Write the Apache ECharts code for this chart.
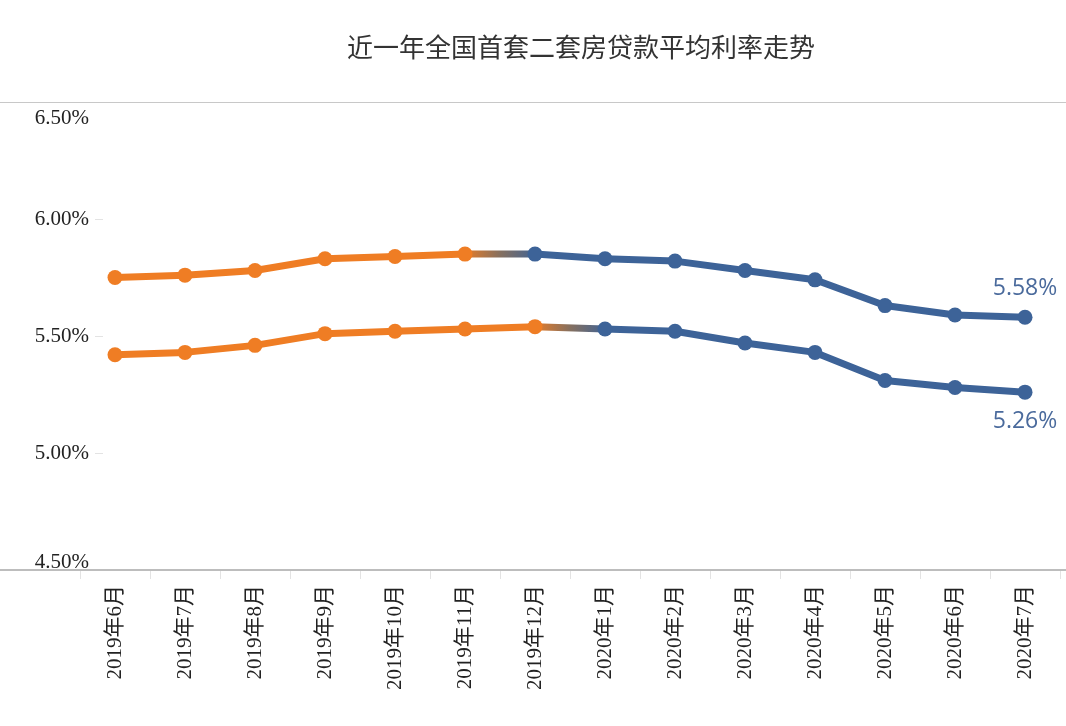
<!DOCTYPE html>
<html>
<head>
<meta charset="utf-8">
<script src="https://cdn.jsdelivr.net/npm/echarts@6/dist/echarts.min.js"></script>
<style>html,body{margin:0;padding:0;background:#fff}#c{width:1066px;height:726px}</style>
</head>
<body>
<div id="c"></div>
<script>
const title = '近一年全国首套二套房贷款平均利率走势';
const months = ['2019年6月','2019年7月','2019年8月','2019年9月','2019年10月','2019年11月','2019年12月','2020年1月','2020年2月','2020年3月','2020年4月','2020年5月','2020年6月','2020年7月'];
const secondHome = [5.75,5.76,5.78,5.83,5.84,5.85,5.85,5.83,5.82,5.78,5.74,5.63,5.59,5.58];
const firstHome  = [5.42,5.43,5.46,5.51,5.52,5.53,5.54,5.53,5.52,5.47,5.43,5.31,5.28,5.26];
// index of last orange point for each series
const secondSwitch = 5;
const firstSwitch = 6;
const yTicks = [4.5, 5.0, 5.5, 6.0, 6.5];

const ORANGE = '#EF7D24';
const BLUE = '#3D6398';

function part(arr, from, to) {
  return arr.map((v, i) => (i >= from && i <= to) ? v : '-');
}
function build(arr, sw, labelPos) {
  const last = arr.length - 1;
  const common = {type: 'line', smooth: false, symbol: 'circle', symbolSize: 15, z: 3};
  return [
    Object.assign({}, common, {
      data: part(arr, 0, sw),
      itemStyle: {color: ORANGE},
      lineStyle: {color: ORANGE, width: 7, cap: 'round', join: 'round'}
    }),
    Object.assign({}, common, {
      data: part(arr, sw, sw + 1),
      showSymbol: false, symbol: 'none', z: 2,
      lineStyle: {
        width: 7, cap: 'round',
        color: new echarts.graphic.LinearGradient(0, 0, 1, 0, [
          {offset: 0, color: ORANGE}, {offset: 0.5, color: '#86705f'}, {offset: 1, color: BLUE}
        ])
      }
    }),
    Object.assign({}, common, {
      data: part(arr, sw + 1, last),
      itemStyle: {color: BLUE},
      lineStyle: {color: BLUE, width: 7, cap: 'round', join: 'round'},
      label: {
        show: true, position: labelPos, distance: 10,
        color: '#4a6a9c', fontSize: 23, fontFamily: '"Open Sans", Lato, sans-serif',
        formatter: p => p.dataIndex === last ? p.value.toFixed(2) + '%' : ''
      }
    })
  ];
}

const yMin = yTicks[0], yMax = yTicks[yTicks.length - 1];
const chart = echarts.init(document.getElementById('c'), null, {renderer: 'canvas'});
chart.setOption({
  animation: false,
  backgroundColor: '#fff',
  title: {
    text: title, left: 342, top: 29,
    textStyle: {fontFamily: '"Noto Sans CJK SC", sans-serif', fontSize: 26, fontWeight: 'normal', color: '#333'}
  },
  grid: {left: 80, right: 6, top: 102, bottom: 156},
  xAxis: {
    type: 'category', data: months, boundaryGap: true,
    axisLine: {show: false},
    axisTick: {show: true, length: 9, lineStyle: {color: '#e3e3e3', width: 1}},
    axisLabel: {
      rotate: 90, margin: 15, color: '#222', fontSize: 21,
      fontFamily: '"Liberation Serif", "Noto Sans CJK SC", serif'
    }
  },
  yAxis: {
    type: 'value', min: yMin, max: yMax, interval: 0.5,
    offset: -23,
    axisLine: {show: false},
    axisTick: {show: true, length: 8, lineStyle: {color: '#e3e3e3'}},
    splitLine: {show: false},
    axisLabel: {
      margin: 14, color: '#222', fontSize: 21,
      fontFamily: '"Liberation Serif", serif',
      verticalAlignMaxLabel: 'top', verticalAlignMinLabel: 'bottom',
      formatter: v => {
        const s = v.toFixed(2) + '%';
        if (v === yMax) return '{t|' + s + '}';
        if (v === yMin) return '{b|' + s + '}';
        return s;
      },
      rich: {
        t: {padding: [6, 0, 0, 0], fontSize: 21, fontFamily: '"Liberation Serif", serif', color: '#222'},
        b: {lineHeight: 15, fontSize: 21, fontFamily: '"Liberation Serif", serif', color: '#222'}
      }
    }
  },
  graphic: [
    {type: 'rect', shape: {x: 0, y: 102, width: 1066, height: 1}, style: {fill: '#c8c8c8'}, z: 1},
    {type: 'rect', shape: {x: 0, y: 569, width: 1066, height: 2}, style: {fill: '#bdbdbd'}, z: 1}
  ],
  series: [].concat(build(secondHome, secondSwitch, 'top'), build(firstHome, firstSwitch, 'bottom'))
});
</script>
</body>
</html>
